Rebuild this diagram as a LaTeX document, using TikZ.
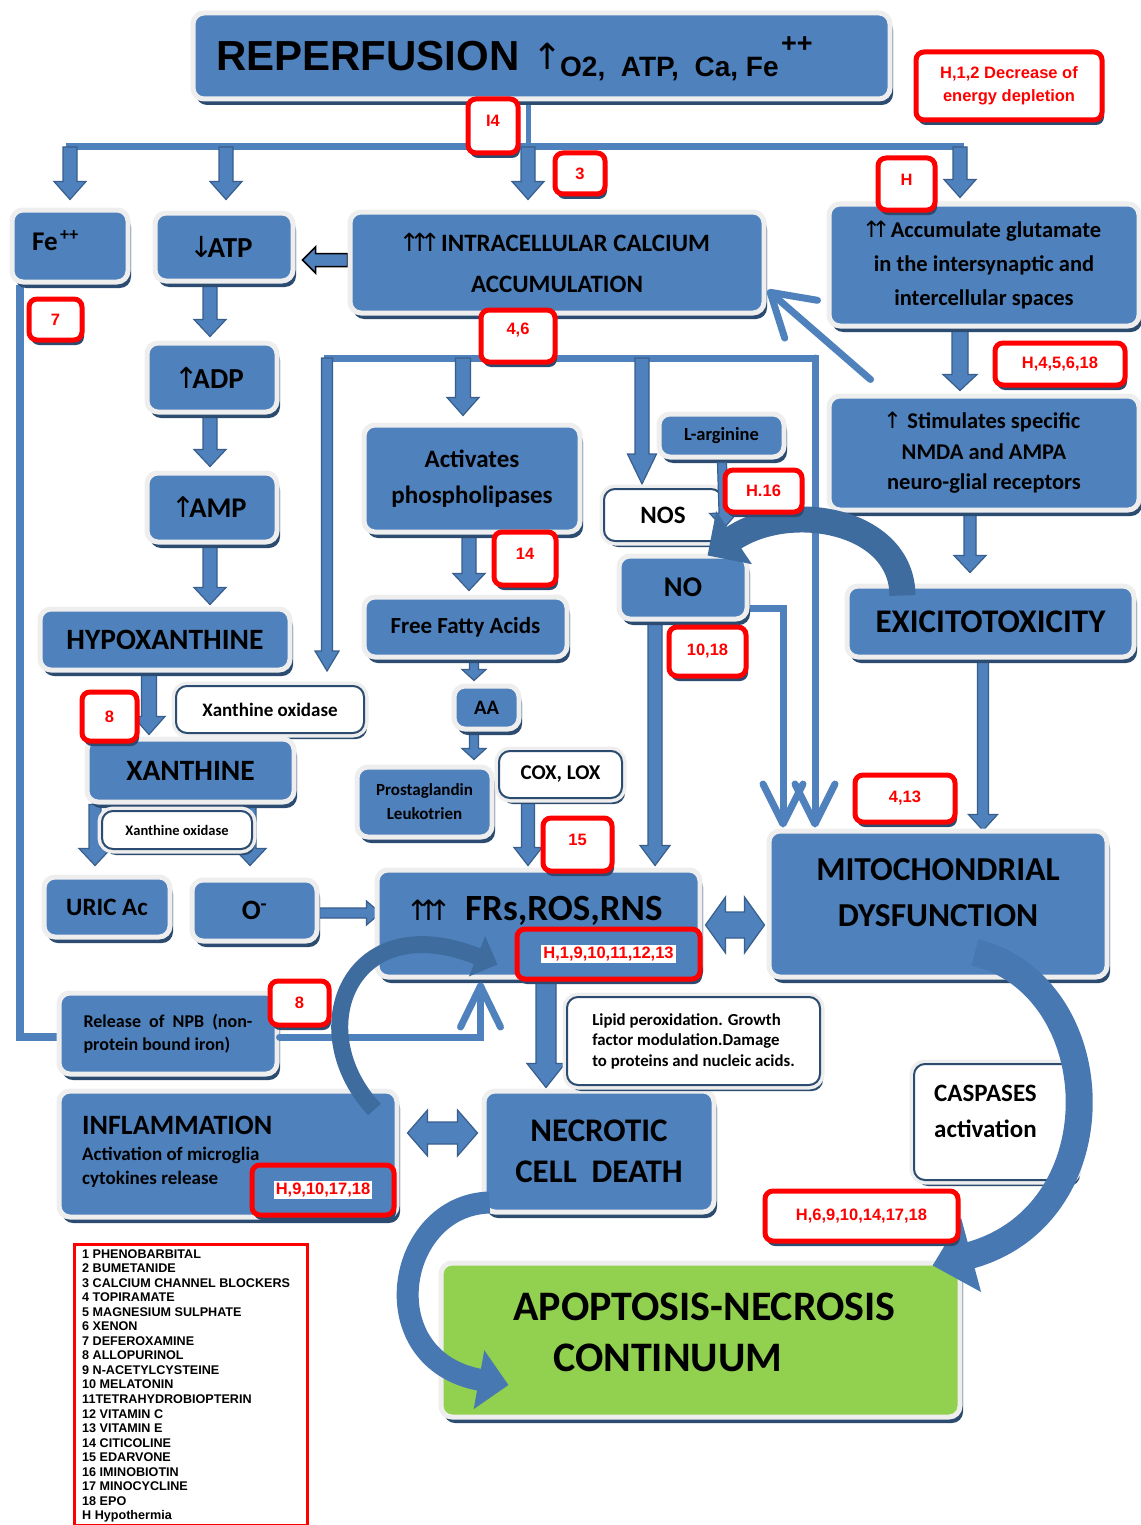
\documentclass[tikz,border=0pt]{standalone}
\usepackage{fontspec}
\setmainfont{Carlito}
\newfontfamily\arialf{Liberation Sans}
\newfontfamily\djv{DejaVu Sans}
\usetikzlibrary{calc,shadows,arrows.meta}
\pgfdeclarelayer{back}
\pgfdeclarelayer{bg}
\pgfsetlayers{back,bg,main}
\definecolor{boxblue}{HTML}{4F81BD}
\definecolor{boxrim}{HTML}{EEEEEE}
\definecolor{shad}{HTML}{2C4B70}
\definecolor{lineblue}{HTML}{4F81BD}
\definecolor{arrowedge}{HTML}{385E8C}
\definecolor{curvD}{HTML}{3F6C9E}
\definecolor{curvM}{HTML}{4878B2}
\definecolor{apgreen}{HTML}{92D050}
\definecolor{redc}{HTML}{FF0000}
\setlength{\fboxsep}{2pt}
\newcommand\fsz[2]{\fontsize{#1}{#2}\selectfont}
\newcommand\uparr[1][0.42em]{{\djv\mdseries\makebox[#1]{↑}}}
\newcommand\dnarr[1][0.42em]{{\djv\mdseries\makebox[#1]{↓}}}
\newcommand\barrow[6][]{%
  \coordinate (ba) at #2;
  \coordinate (bb) at #3;
  \coordinate (bm) at ($(bb)!#6!(ba)$);
  \filldraw[barr,#1] ($(ba)!#4!90:(bb)$) -- ($(bm)!#4!-90:(ba)$) -- ($(bm)!#5!-90:(ba)$) -- (bb) -- ($(bm)!#5!90:(ba)$) -- ($(bm)!#4!90:(ba)$) -- ($(ba)!#4!-90:(bb)$) -- cycle;}
\newcommand\dbarrow[6][]{%
  \coordinate (ba) at #2;
  \coordinate (bb) at #3;
  \coordinate (m1) at ($(ba)!#6!(bb)$);
  \coordinate (m2) at ($(bb)!#6!(ba)$);
  \filldraw[barr,#1] (ba) -- ($(m1)!#5!-90:(ba)$) -- ($(m1)!#4!-90:(ba)$) -- ($(m2)!#4!-90:(ba)$) -- ($(m2)!#5!-90:(ba)$) -- (bb) -- ($(m2)!#5!90:(ba)$) -- ($(m2)!#4!90:(ba)$) -- ($(m1)!#4!90:(ba)$) -- ($(m1)!#5!90:(ba)$) -- cycle;}
\tikzset{
  bx/.style={rectangle, rounded corners=11pt, fill=boxblue, draw=boxrim, line width=5pt,
    drop shadow={shadow xshift=3pt, shadow yshift=-6pt, fill=shad, opacity=1},
    inner sep=0pt, align=center, text=black},
  wbx/.style={bx, fill=white, draw=shad, line width=2pt, preaction={draw=boxrim, line width=9pt}},
  rbx/.style={rectangle, rounded corners=8pt, fill=white, draw=redc, line width=5pt,
    drop shadow={shadow xshift=2pt, shadow yshift=-5pt, fill=shad, opacity=1},
    inner sep=0pt, align=center, text=redc, font=\arialf\bfseries\fsz{16.5}{23}},
  conn/.style={draw=lineblue, line width=7pt},
  barr/.style={fill=boxblue, draw=arrowedge, line width=1.2pt},
  vline/.style={draw=lineblue, line width=7pt, line cap=round, -{Straight Barb[length=40pt,width=40pt,round]}},
  txt/.style={inner sep=0pt, text=black},
}
\begin{document}
\begin{tikzpicture}[x=1pt,y=-1pt]
\useasboundingbox (0,0) rectangle (1140,1525);
\begin{pgfonlayer}{back}
\fill[white] (0,0) rectangle (1140,1525);
\end{pgfonlayer}

% ---------- boxes ----------
\node[bx, minimum width=697, minimum height=86] (rep) at (541.5,56) {};
\node[txt, anchor=base west, font=\arialf\bfseries\fsz{42}{42}] (t-rep) at (216,71) {REPERFUSION};
\node[txt, anchor=base, font=\djv\fsz{36}{36}] (t-rup) at (548,70) {↑};
\node[txt, anchor=base west, font=\arialf\bfseries\fsz{28}{28}] (t-rgas) at (560,77) {O2,\ \ ATP,\ \ Ca, Fe};
\node[txt, anchor=base west, font=\arialf\bfseries\fsz{27}{27}] (t-rpp) at (781,53) {++};

\node[bx, minimum width=116, minimum height=72] (fe) at (70,246) {};
\node[txt, anchor=base west, font=\bfseries\fsz{27}{27}] (t-fe) at (32,250) {Fe};
\node[txt, anchor=base west, font=\bfseries\fsz{18}{18}] (t-fepp) at (60,240) {++};

\node[bx, minimum width=138, minimum height=68, font=\bfseries\fsz{29}{29}] (atp) at (224,247) {\dnarr ATP};
\node[bx, minimum width=414, minimum height=101, font=\bfseries\fsz{25}{41}] (calc) at (557,262.5) {\uparr\uparr\uparr\ INTRACELLULAR CALCIUM\\ACCUMULATION};
\node[bx, minimum width=310, minimum height=122, font=\bfseries\fsz{22.5}{34}] (glu) at (984,265) {\uparr\uparr\ Accumulate glutamate\\in the intersynaptic and\\intercellular spaces};
\node[bx, minimum width=130, minimum height=69, font=\bfseries\fsz{29}{29}] (adp) at (212,377.5) {\uparr ADP};
\node[bx, minimum width=130, minimum height=69, font=\bfseries\fsz{28.5}{29}] (amp) at (212,507.5) {\uparr AMP};
\node[bx, minimum width=250, minimum height=61, font=\bfseries\fsz{29.5}{30}] (hyp) at (165,639.5) {HYPOXANTHINE};
\node[wbx, minimum width=188, minimum height=47, font=\bfseries\fsz{19}{20}] (xo1) at (270,709.5) {Xanthine oxidase};
\node[bx, minimum width=207, minimum height=63, font=\bfseries\fsz{29.5}{30}] (xan) at (190.5,770.5) {XANTHINE};
\node[bx, minimum width=126, minimum height=60, font=\bfseries\fsz{25}{25}] (uric) at (107,907) {URIC Ac};
\node[bx, minimum width=125, minimum height=61, font=\bfseries\fsz{28}{28}] (oneg) at (254.5,910.5) {O\textsuperscript{-}};
\node[bx, minimum width=323, minimum height=107] (frs) at (538.5,923.5) {};
\node[txt, anchor=base west, font=\bfseries\fsz{37}{37}] (t-frs) at (412,920) {{\fsz{28}{28}\uparr[11pt]\uparr[11pt]\uparr[11pt]}\hspace{20pt}FRs,ROS,RNS};
\node[bx, minimum width=218, minimum height=81, font=\bfseries\fsz{18}{23}, align=left] (npb) at (168,1033.5) {Release\ \ of\ \ NPB\ \ (non-\\protein bound iron)};
\node[bx, minimum width=338, minimum height=126] (infl) at (228,1154) {};
\node[txt, anchor=base west, font=\bfseries\fsz{28}{28}] (t-infl1) at (82,1134) {INFLAMMATION};
\node[txt, anchor=base west, font=\bfseries\fsz{19}{19}] (t-infl2) at (82,1160) {Activation of microglia};
\node[txt, anchor=base west, font=\bfseries\fsz{19}{19}] (t-infl3) at (82,1184) {cytokines release};
\node[bx, minimum width=230, minimum height=121, font=\bfseries\fsz{33}{41}] (necr) at (599,1151.5) {NECROTIC\\CELL\ \ DEATH};
\node[bx, fill=apgreen, minimum width=519, minimum height=154] (apop) at (700.5,1340) {};
\node[txt, anchor=base west, font=\bfseries\fsz{42}{42}] (t-apop1) at (513,1320) {APOPTOSIS-NECROSIS};
\node[txt, anchor=base west, font=\bfseries\fsz{42}{42}] (t-apop2) at (553,1371) {CONTINUUM};
\node[bx, minimum width=216, minimum height=107, font=\bfseries\fsz{25}{36}] (phos) at (472,478.5) {Activates\\phospholipases};
\node[bx, minimum width=203, minimum height=60, font=\bfseries\fsz{23}{23}] (ffa) at (465.5,627) {Free Fatty Acids};
\node[bx, minimum width=65, minimum height=43, font=\bfseries\fsz{20.5}{21}] (aa) at (486.5,707.5) {AA};
\node[bx, minimum width=135, minimum height=70, font=\bfseries\fsz{17}{24}] (prost) at (424.5,802) {Prostaglandin\\Leukotrien};
\node[wbx, minimum width=123, minimum height=47, font=\bfseries\fsz{21}{21}] (cox) at (560.5,774.5) {COX, LOX};
\node[bx, minimum width=125, minimum height=43, font=\bfseries\fsz{18.5}{19}] (larg) at (721.5,435.5) {L-arginine};
\node[wbx, minimum width=118, minimum height=52, font=\bfseries\fsz{25}{25}] (nos) at (663,515) {NOS};
\node[bx, minimum width=128, minimum height=63, font=\bfseries\fsz{28.5}{29}] (no) at (683,587.5) {NO};
\node[bx, minimum width=310, minimum height=114, font=\bfseries\fsz{22.5}{30.5}] (stim) at (984,453) {\uparr\ \ Stimulates specific\\NMDA and AMPA\\neuro-glial receptors};
\node[bx, minimum width=287, minimum height=71, font=\bfseries\fsz{33}{33}] (exc) at (990.5,621.5) {EXICITOTOXICITY};
\node[bx, minimum width=338, minimum height=146] (mito) at (938,904) {};
\node[txt, anchor=base, font=\bfseries\fsz{33.5}{34}] (t-mito1) at (938,880) {MITOCHONDRIAL};
\node[txt, anchor=base, font=\bfseries\fsz{33.5}{34}] (t-mito2) at (938,926) {DYSFUNCTION};
\node[wbx, minimum width=253, minimum height=88, font=\bfseries\fsz{16.8}{20.5}, align=left] (lipid) at (693.5,1041) {Lipid peroxidation. Growth\\factor modulation.Damage\\to proteins and nucleic acids.};
\node[wbx, minimum width=163, minimum height=116] (casp) at (995.5,1122) {};
\node[txt, anchor=base west, font=\bfseries\fsz{25}{25}] (t-casp1) at (934,1101) {CASPASES};
\node[txt, anchor=base west, font=\bfseries\fsz{25}{25}] (t-casp2) at (934,1137) {activation};

% ---------- connectors under boxes ----------
\begin{pgfonlayer}{bg}
\coordinate (b1L) at (70,147);
\coordinate (b1A) at (226,147);
\coordinate (b1M) at (528,147);
\coordinate (b1R) at (960,147);
\coordinate (b2L) at (327,358);
\coordinate (b2P) at (463,358);
\coordinate (b2N) at (642,358);
\coordinate (b2R) at (815,358);
\draw[conn, line width=5pt] (b1M |- rep.south) -- (b1M);
\draw[conn] ($(b1L)+(-4,0)$) -- ($(b1R)+(4,0)$);
\barrow{(b1L)}{($(b1L |- fe.north)+(0,-8)$)}{7pt}{16pt}{18pt}
\barrow{(b1A)}{($(b1A |- atp.north)+(0,-11)$)}{7pt}{16pt}{18pt}
\barrow{(b1M)}{($(b1M |- calc.north)+(0,-10)$)}{7pt}{16pt}{18pt}
\barrow{(b1R)}{($(b1R |- glu.north)+(0,-4)$)}{7pt}{16pt}{18pt}
\barrow{($(atp.south)+(-14,-2)$)}{($(adp.north)+(-2,-4)$)}{7pt}{16pt}{17pt}
\barrow{($(adp.south)+(-2,-2)$)}{($(amp.north)+(-2,-4)$)}{7pt}{16pt}{17pt}
\barrow{($(amp.south)+(-2,-2)$)}{($(amp.south |- hyp.north)+(-2,-2)$)}{7pt}{16pt}{17pt}
\barrow{($(hyp.south)+(-16,-2)$)}{($(hyp.south |- xan.north)+(-16,-2)$)}{7.5pt}{16pt}{18pt}
\coordinate (xu) at ($(xan.south)+(-95.5,0)$);
\coordinate (xo) at ($(xan.south)+(59.5,0)$);
\barrow{(xu)}{($(xu |- uric.north)+(0,-9)$)}{6pt}{16pt}{17pt}
\barrow{(xo)}{($(xo |- oneg.north)+(0,-12)$)}{6pt}{16pt}{17pt}
\barrow[draw=black, line width=1.5pt]{($(calc.west)+(0,-2.5)$)}{($(atp.east |- calc.west)+(7,-2.5)$)}{6.5pt}{13pt}{13pt}
\draw[conn] ($(calc.south)+(-26,0)$) -- ($(calc.south |- b2L)+(-26,0)$);
\draw[conn] ($(b2L)+(-3.5,0)$) -- ($(b2R)+(3.5,0)$);
\draw[vline] (b2R) -- ($(b2R |- mito.north)+(0,-1)$);
\barrow{(b2L)}{($(b2L |- xo1.north)+(0,-14)$)}{5.5pt}{12pt}{20pt}
\barrow{(b2P)}{($(b2P |- phos.north)+(0,-7)$)}{7.5pt}{16pt}{18pt}
\barrow{(b2N)}{($(b2N |- nos.north)+(0,-4)$)}{7pt}{14.5pt}{30pt}
\barrow{($(glu.south)+(-24,-2)$)}{($(glu.south |- stim.north)+(-24,-3)$)}{8pt}{17pt}{16pt}
\barrow{($(stim.south)+(-14,-2)$)}{($(stim.south |- exc.north)+(-14,-11)$)}{6pt}{16pt}{17pt}
\barrow{($(exc.south)+(-7.5,-2)$)}{($(exc.south |- mito.north)+(-7.5,2)$)}{5.5pt}{14.5pt}{16pt}
\barrow{($(phos.south)+(-3,-2)$)}{($(phos.south |- ffa.north)+(-3,-4)$)}{7pt}{16pt}{17pt}
\barrow{($(ffa.south)+(8.5,-2)$)}{($(ffa.south |- aa.north)+(8.5,-3)$)}{4.5pt}{12pt}{11pt}
\barrow{($(aa.south)+(-12.5,-2)$)}{($(aa.south |- prost.north)+(-12.5,-5)$)}{4.5pt}{12pt}{11pt}
\barrow{($(no.south)+(-28,-2)$)}{($(no.south |- frs.north)+(-28,-2)$)}{7pt}{15pt}{20pt}
\barrow{($(cox.south)+(-32.5,-2)$)}{($(cox.south |- frs.north)+(-32.5,-2)$)}{6.5pt}{14pt}{18pt}
\barrow{($(oneg.east)+(-2,2.5)$)}{($(oneg.east -| frs.west)+(6,2.5)$)}{5pt}{12pt}{14pt}
\barrow{($(frs.south)+(7.5,-2)$)}{($(frs.south |- necr.north)+(7.5,-1)$)}{10pt}{19pt}{24pt}
\dbarrow{($(frs.east)+(3,1.5)$)}{($(mito.west |- frs.east)+(-2,1.5)$)}{13pt}{28pt}{20pt}
\dbarrow{($(infl.east)+(8,-21)$)}{($(necr.west |- infl.east)+(-4,-21)$)}{11pt}{23pt}{20pt}
\draw[conn, line width=8pt] ($(fe.south)+(-50,0)$) |- ($(npb.west)+(0,3.5)$);
\draw[vline] ($(no.east)+(-5,20.5)$) -| ($(mito.north)+(-155,-1)$);
\end{pgfonlayer}

% ---------- connectors over boxes ----------
\node[wbx, minimum width=150, minimum height=38, font=\bfseries\fsz{14.5}{15}] (xo2) at (177,830) {Xanthine oxidase};
\draw[vline, -{Straight Barb[length=41pt,width=50pt,round]}] ($(glu.south west)+(44,51)$) -- ($(calc.east)+(1,27.5)$);
\draw[vline, -{Straight Barb[length=41pt,width=40pt,round]}] ($(npb.east)+(0,3.5)$) -| ($(frs.south)+(-58,3)$);
\barrow{($(larg.south)+(0.5,3)$)}{($(nos.east)+(1,13)$)}{4.5pt}{14pt}{15pt}

% curved arrows
\draw[curvD, line width=26pt, -{Triangle[length=32pt,width=62pt]}] ($(exc.north west)+(58,12)$) .. controls (902,520) and (790,500) .. ($(no.east)+(-42,-32)$);
\draw[curvM, line width=27pt, -{Triangle[length=40pt,width=74pt]}] ($(mito.south)+(37,-27)$) .. controls (1110,985) and (1120,1215) .. ($(apop.north east)+(-30,5)$);
\draw[curvM, line width=22pt, -{Triangle[length=30pt,width=58pt]}] ($(necr.south west)+(8,-12)$) .. controls (395,1205) and (370,1360) .. ($(apop.west)+(70,45)$);
\draw[curvD, line width=17pt, -{Triangle[length=22pt,width=42pt]}] ($(infl.north east)+(-25,21)$) .. controls (300,1030) and (350,905) .. ($(frs.south west)+(123,-15)$);

% ---------- red labels ----------
\node[rbx, minimum width=186, minimum height=68] (r1) at (1009,86) {H,1,2 Decrease of\\energy depletion};
\node[rbx, minimum width=50, minimum height=54, text depth=10pt] (r2) at (493,126) {I4};
\node[rbx, minimum width=50, minimum height=41] (r3) at (580,173.5) {3};
\node[rbx, minimum width=57, minimum height=52, text depth=8pt] (r4) at (906.5,184) {H};
\node[rbx, minimum width=53, minimum height=41] (r5) at (55.5,319.5) {7};
\node[rbx, minimum width=74, minimum height=52, text depth=14pt] (r6) at (518,336) {4,6};
\node[rbx, minimum width=130, minimum height=42] (r7) at (1060,364) {H,4,5,6,18};
\node[rbx, minimum width=77, minimum height=42] (r8) at (763.5,491) {H.16};
\node[rbx, minimum width=62, minimum height=53, text depth=10pt] (r9) at (525,558.5) {14};
\node[rbx, minimum width=77, minimum height=49] (r10) at (707.5,651.5) {10,18};
\node[rbx, minimum width=55, minimum height=49] (r11) at (109.5,716.5) {8};
\node[rbx, minimum width=100, minimum height=47] (r12) at (905,798.5) {4,13};
\node[rbx, minimum width=69, minimum height=53, text depth=10pt] (r13) at (577.5,844.5) {15};
\node[rbx, fill=boxblue, minimum width=183, minimum height=50] (r14) at (608.5,954) {\colorbox{white}{H,1,9,10,11,12,13}};
\node[rbx, minimum width=59, minimum height=44] (r15) at (299.5,1003) {8};
\node[rbx, fill=boxblue, minimum width=142, minimum height=50] (r16) at (323,1190) {\colorbox{white}{H,9,10,17,18}};
\node[rbx, minimum width=193, minimum height=50] (r17) at (861.5,1216) {H,6,9,10,14,17,18};

% ---------- legend ----------
\node[draw=redc, line width=3pt, minimum width=233, minimum height=281, anchor=north west, inner sep=0pt] (legend) at (73,1243) {};
\node[txt, anchor=north west, align=left, font=\arialf\bfseries\fsz{12.6}{14.55}] (t-legend) at (82,1249) {1 PHENOBARBITAL\\2 BUMETANIDE\\3 CALCIUM CHANNEL BLOCKERS\\4 TOPIRAMATE\\5 MAGNESIUM SULPHATE\\6 XENON\\7 DEFEROXAMINE\\8 ALLOPURINOL\\9 N-ACETYLCYSTEINE\\10 MELATONIN\\11TETRAHYDROBIOPTERIN\\12 VITAMIN C\\13 VITAMIN E\\14 CITICOLINE\\15 EDARVONE\\16 IMINOBIOTIN\\17 MINOCYCLINE\\18 EPO\\H Hypothermia};
\end{tikzpicture}
\end{document}
